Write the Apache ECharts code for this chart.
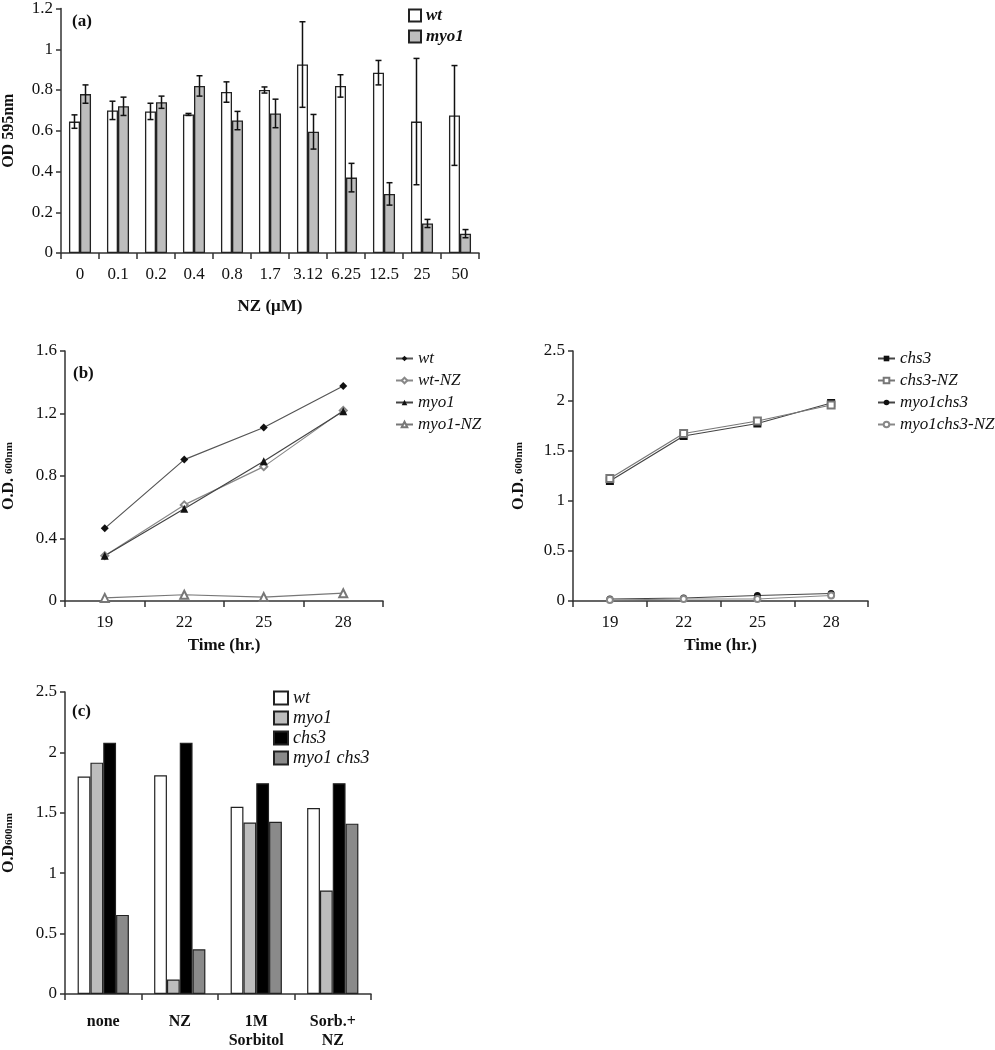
<!DOCTYPE html>
<html>
<head>
<meta charset="utf-8">
<script src="https://cdn.jsdelivr.net/npm/echarts@6/dist/echarts.min.js"></script>
<style>html,body{margin:0;padding:0;background:#fff}#c{width:995px;height:1050px}</style>
</head>
<body>
<div id="c"></div>
<script>
// ---- Panel (a) data ----
const concA = ['0','0.1','0.2','0.4','0.8','1.7','3.12','6.25','12.5','25','50'];
const wtA   = [0.645,0.70,0.695,0.68,0.79,0.80,0.925,0.82,0.885,0.645,0.675];
const wtErrA= [0.033,0.045,0.04,0.005,0.05,0.015,0.21,0.055,0.06,0.31,0.245];
const myoA  = [0.78,0.72,0.74,0.82,0.65,0.685,0.595,0.37,0.29,0.145,0.095];
const myoErrA=[0.045,0.045,0.03,0.05,0.045,0.07,0.085,0.07,0.055,0.02,0.02];
const ticksA = [0,0.2,0.4,0.6,0.8,1,1.2];

// ---- Panel (b) data ----
const timeB = ['19','22','25','28'];
const wtB      = [0.465,0.905,1.11,1.376];
const wtNZB    = [0.29,0.615,0.86,1.22];
const myo1B    = [0.29,0.59,0.895,1.215];
const myo1NZB  = [0.02,0.04,0.025,0.05];
const chs3B    = [1.20,1.65,1.775,1.98];
const chs3NZB  = [1.225,1.675,1.80,1.96];
const dblB     = [0.02,0.03,0.055,0.075];
const dblNZB   = [0.01,0.02,0.02,0.055];

// ---- Panel (c) data ----
const condC = ['none','NZ','1M\nSorbitol','Sorb.+\nNZ'];
const wtC   = [1.80,1.81,1.55,1.54];
const myo1C = [1.915,0.12,1.42,0.857];
const chs3C = [2.08,2.08,1.745,1.745];
const dblC  = [0.655,0.37,1.425,1.41];

const FONT = '"Liberation Serif","Times New Roman",serif';
const AX = '#333';
const TXT = '#111';
const trimName = n => n.trim();

function errData(mean, err){ return mean.map((m,i)=>[i, m-err[i], m+err[i]]); }
function errRender(side){
  return function(params, api){
    const i = api.value(0);
    const lo = api.coord([i, api.value(1)]);
    const hi = api.coord([i, api.value(2)]);
    const band = api.size([1,0])[0];
    const bw = band*0.58/2;
    const x = lo[0] + side*bw/2;
    const cap = 3;
    const st = {stroke:'#111', lineWidth:1.5};
    return {type:'group', children:[
      {type:'line', shape:{x1:x,y1:lo[1],x2:x,y2:hi[1]}, style:st},
      {type:'line', shape:{x1:x-cap,y1:lo[1],x2:x+cap,y2:lo[1]}, style:st},
      {type:'line', shape:{x1:x-cap,y1:hi[1],x2:x+cap,y2:hi[1]}, style:st}
    ]};
  };
}

function yAx(gi, max, interval, name, nameGap){
  return {type:'value', gridIndex:gi, min:0, max:max, interval:interval,
    axisLine:{show:true, lineStyle:{color:AX, width:1.5}},
    axisTick:{show:true, length:5, lineStyle:{color:AX, width:1.5}},
    splitLine:{show:false},
    axisLabel:{color:TXT, fontFamily:FONT, fontSize:17, margin:8},
    name:name, nameLocation:'middle', nameGap:nameGap, nameRotate:90,
    nameTextStyle:{color:TXT, fontFamily:FONT, fontSize:16, fontWeight:'bold',
      rich:{b:{fontFamily:FONT,fontSize:16,fontWeight:'bold',color:TXT},
            s:{fontFamily:FONT,fontSize:11,fontWeight:'bold',color:TXT}}}
  };
}
function xAx(gi, data, name, nameGap, labelMargin, bold){
  return {type:'category', gridIndex:gi, data:data, boundaryGap:true,
    axisLine:{show:true, lineStyle:{color:AX, width:1.5}},
    axisTick:{show:true, length:6, lineStyle:{color:AX, width:1.5}},
    axisLabel:{color:TXT, fontFamily:FONT, fontSize:bold?16:17, fontWeight:bold?'bold':'normal', margin:labelMargin, lineHeight:19, interval:0},
    name:name, nameLocation:'middle', nameGap:nameGap,
    nameTextStyle:{color:TXT, fontFamily:FONT, fontSize:17, fontWeight:'bold'}
  };
}

const lineBase = (name, data, xi, yi, sym, size, color, lineColor) => ({
  name:name, type:'line', xAxisIndex:xi, yAxisIndex:yi, data:data,
  symbol:sym, symbolSize:size, showSymbol:true,
  itemStyle:{color:color, borderWidth:1},
  lineStyle:{color:lineColor, width:1.2}, z:3
});

const option = {
  animation:false,
  backgroundColor:'#fff',
  textStyle:{fontFamily:FONT},
  grid:[
    {left:60, top:7, width:419, height:246},
    {left:60, top:351, width:323, height:250},
    {left:573, top:351, width:295, height:250},
    {left:60, top:692, width:311, height:304}
  ],
  xAxis:[
    xAx(0, concA, 'NZ (μM)', 45, 12, false),
    xAx(1, timeB, 'Time (hr.)', 36, 12, false),
    xAx(2, timeB, 'Time (hr.)', 36, 12, false),
    xAx(3, condC, '', 0, 18, true)
  ],
  yAxis:[
    yAx(0, 1.2, 0.2, 'OD 595nm', 44),
    yAx(1, 1.6, 0.4, '{b|O.D.} {s|600nm}', 48),
    yAx(2, 2.5, 0.5, '{b|O.D.} {s|600nm}', 46),
    yAx(3, 2.5, 0.5, '{b|O.D}{s|600nm}', 48)
  ],
  legend:[
    {data:['wt','myo1'], orient:'vertical', left:403, top:2, itemWidth:12, itemHeight:12, itemGap:4,
     icon:'rect', textStyle:{fontFamily:FONT, fontSize:17, fontStyle:'italic', fontWeight:'bold', color:TXT}},
    {data:['wt  ','wt-NZ','myo1  ','myo1-NZ'], formatter:trimName, orient:'vertical', left:390, top:345, itemWidth:17, itemHeight:7, itemGap:5,
     textStyle:{fontFamily:FONT, fontSize:17, fontStyle:'italic', color:TXT}},
    {data:['chs3','chs3-NZ','myo1chs3','myo1chs3-NZ'], orient:'vertical', left:872, top:345, itemWidth:17, itemHeight:7, itemGap:5,
     textStyle:{fontFamily:FONT, fontSize:17, fontStyle:'italic', color:TXT}},
    {data:['wt ','myo1 ','chs3 ','myo1 chs3'], formatter:trimName, orient:'vertical', left:268, top:684, itemWidth:14, itemHeight:13, itemGap:2,
     icon:'rect', textStyle:{fontFamily:FONT, fontSize:18, fontStyle:'italic', color:TXT, lineHeight:16}}
  ],
  graphic:[
    {type:'text', left:72, top:13, style:{text:'(a)', font:'bold 17px '+FONT, fill:TXT}},
    {type:'text', left:73, top:365, style:{text:'(b)', font:'bold 17px '+FONT, fill:TXT}},
    {type:'text', left:72, top:703, style:{text:'(c)', font:'bold 17px '+FONT, fill:TXT}}
  ],
  series:[
    // (a)
    {name:'wt', type:'bar', xAxisIndex:0, yAxisIndex:0, data:wtA, barGap:'0%', barCategoryGap:'42%',
     itemStyle:{color:'#ffffff', borderColor:'#222', borderWidth:1.3}},
    {name:'myo1', type:'bar', xAxisIndex:0, yAxisIndex:0, data:myoA, barGap:'0%', barCategoryGap:'42%',
     itemStyle:{color:'#bdbdbd', borderColor:'#222', borderWidth:1.3}},
    {type:'custom', xAxisIndex:0, yAxisIndex:0, data:errData(wtA, wtErrA), renderItem:errRender(-1), z:5},
    {type:'custom', xAxisIndex:0, yAxisIndex:0, data:errData(myoA, myoErrA), renderItem:errRender(1), z:5},
    // (b) left
    lineBase('wt  ', wtB, 1, 1, 'diamond', 8, '#111', '#555'),
    lineBase('wt-NZ', wtNZB, 1, 1, 'emptyDiamond', 7, '#888', '#888'),
    lineBase('myo1  ', myo1B, 1, 1, 'triangle', 8, '#111', '#444'),
    lineBase('myo1-NZ', myo1NZB, 1, 1, 'emptyTriangle', 8, '#777', '#777'),
    // (b) right
    lineBase('chs3', chs3B, 2, 2, 'rect', 8, '#111', '#444'),
    lineBase('chs3-NZ', chs3NZB, 2, 2, 'emptyRect', 7, '#777', '#777'),
    lineBase('myo1chs3', dblB, 2, 2, 'circle', 7, '#111', '#444'),
    lineBase('myo1chs3-NZ', dblNZB, 2, 2, 'emptyCircle', 6, '#888', '#888'),
    // (c)
    {name:'wt ', type:'bar', xAxisIndex:3, yAxisIndex:3, data:wtC, barGap:'0%', barCategoryGap:'33%',
     itemStyle:{color:'#ffffff', borderColor:'#222', borderWidth:1.2}},
    {name:'myo1 ', type:'bar', xAxisIndex:3, yAxisIndex:3, data:myo1C, barGap:'0%', barCategoryGap:'33%',
     itemStyle:{color:'#bdbdbd', borderColor:'#222', borderWidth:1.2}},
    {name:'chs3 ', type:'bar', xAxisIndex:3, yAxisIndex:3, data:chs3C, barGap:'0%', barCategoryGap:'33%',
     itemStyle:{color:'#000000', borderColor:'#222', borderWidth:1.2}},
    {name:'myo1 chs3', type:'bar', xAxisIndex:3, yAxisIndex:3, data:dblC, barGap:'0%', barCategoryGap:'33%',
     itemStyle:{color:'#8a8a8a', borderColor:'#222', borderWidth:1.2}}
  ]
};
const chart = echarts.init(document.getElementById('c'), null, {renderer:'canvas'});
chart.setOption(option);
</script>
</body>
</html>
